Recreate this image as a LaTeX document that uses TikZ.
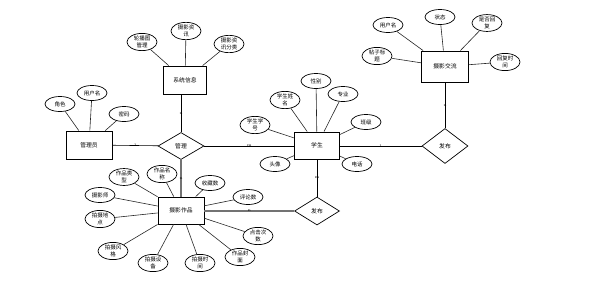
\documentclass[tikz,border=0pt]{standalone}
\usepackage{fontspec}
\newfontfamily\cjk{Noto Sans CJK SC}
\usetikzlibrary{shapes.geometric}
\begin{document}
\begin{tikzpicture}[x=1pt,y=-1pt,
  attr/.style={ellipse,draw,line width=0.7pt,minimum width=30pt,minimum height=15pt,inner sep=0.3pt,font=\cjk\fontsize{5.5}{6.5}\selectfont,align=center},
  ent/.style={rectangle,draw,line width=0.9pt,inner sep=0pt,font=\cjk\fontsize{5.8}{7}\selectfont},
  rel/.style={diamond,draw,line width=0.7pt,inner sep=0pt,font=\cjk\fontsize{5.8}{7}\selectfont},
  lnk/.style={line width=0.6pt,draw=black!85},
  thk/.style={line width=1.1pt,draw=black!55},
  card/.style={font=\fontsize{4}{4}\selectfont,inner sep=0pt}]
\useasboundingbox (0,0) rectangle (591,285);
% entities
\node[ent,minimum width=46pt,minimum height=28pt] (gly) at (89,145) {管理员};
\node[ent,minimum width=43pt,minimum height=28pt] (xt) at (185,80) {系统信息};
\node[ent,minimum width=45pt,minimum height=27pt] (xs) at (317,145.5) {学生};
\node[ent,minimum width=47pt,minimum height=31pt] (jl) at (445,66.5) {摄影交流};
\node[ent,minimum width=46pt,minimum height=27pt] (zp) at (181,210.5) {摄影作品};
% relations
\node[rel,minimum width=46pt,minimum height=27pt] (gl) at (181,146) {管理};
\node[rel,minimum width=46pt,minimum height=35pt] (fb1) at (445,146) {发布};
\node[rel,minimum width=45pt,minimum height=28pt] (fb2) at (317,211) {发布};
% admin attributes
\node[attr] (a1) at (60,104) {角色};
\node[attr] (a2) at (92,93) {用户名};
\node[attr] (a3) at (124,114) {密码};
% system attributes
\node[attr] (s1) at (142,42) {轮播图\\管理};
\node[attr] (s2) at (186,31) {摄影资\\讯};
\node[attr] (s3) at (229,44) {摄影资\\讯分类};
% student attributes
\node[attr] (x1) at (255,125) {学生学\\号};
\node[attr] (x2) at (285,100) {学生姓\\名};
\node[attr] (x3) at (316,81) {性别};
\node[attr] (x4) at (343,94) {专业};
\node[attr] (x5) at (366,122) {班级};
\node[attr] (x6) at (357,164) {电话};
\node[attr] (x7) at (275,164) {头像};
% exchange attributes
\node[attr] (j1) at (388,25) {用户名};
\node[attr] (j2) at (440,17) {状态};
\node[attr] (j3) at (487,23) {是否回\\复};
\node[attr] (j4) at (505,62) {回复时\\间};
\node[attr] (j5) at (377,56) {帖子标\\题};
% works attributes
\node[attr] (w1) at (124,177) {作品类\\型};
\node[attr] (w2) at (162,174) {作品名\\称};
\node[attr] (w3) at (210,183) {收藏数};
\node[attr] (w4) at (248,197) {评论数};
\node[attr] (w5) at (100,195) {摄影师};
\node[attr] (w6) at (100,219) {拍摄地\\点};
\node[attr] (w7) at (113,251) {拍摄风\\格};
\node[attr] (w8) at (153,263) {拍摄设\\备};
\node[attr] (w9) at (200,263) {拍摄时\\间};
\node[attr] (w10) at (240,257) {作品封\\面};
\node[attr] (w11) at (258,236) {点击次\\数};
% attribute links
\foreach \a in {a1,a2,a3} \draw[lnk] (\a) -- (gly);
\foreach \a in {s1,s2,s3} \draw[lnk] (\a) -- (xt);
\foreach \a in {x1,x2,x3,x4,x5,x6,x7} \draw[lnk] (\a) -- (xs);
\foreach \a in {j1,j2,j3,j4,j5} \draw[lnk] (\a) -- (jl);
\foreach \a in {w1,w2,w3,w4,w5,w6,w7,w8,w9,w10,w11} \draw[lnk] (\a) -- (zp);
% relationship links
\draw[lnk,draw=black] (gly) -- node[card] {1} (gl);
\draw[lnk,draw=black] (gl) -- node[card] {m} (xs.west |- gl);
\draw[lnk,draw=black] (gl.north) -- node[card] {n} (gl.north |- xt.south);
\draw[thk] (gl.south) -- node[card] {n} (gl.south |- zp.north);
\draw[lnk,draw=black] (xs.east |- fb1) -- node[card] {1} (fb1);
\draw[lnk,draw=black] (fb1.north) -- node[card] {n} (fb1.north |- jl.south);
\draw[lnk,draw=black] (xs.south -| fb2) -- node[card] {m} (fb2.north);
\draw[thk] (zp.east |- fb2) -- node[card] {n} (fb2.west);
\end{tikzpicture}
\end{document}
